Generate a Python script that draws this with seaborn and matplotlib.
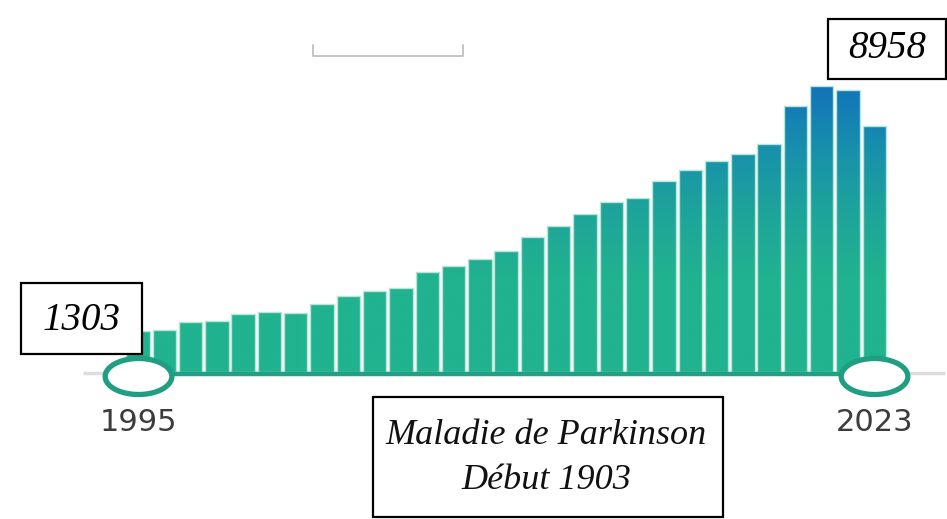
import numpy as np
import pandas as pd
import matplotlib
matplotlib.use('Agg')
import matplotlib.pyplot as plt
import seaborn as sns
from matplotlib.colors import LinearSegmentedColormap, Normalize
from matplotlib.patches import Rectangle
from matplotlib.lines import Line2D
from matplotlib.path import Path

# publications per year
years = list(range(1995, 2024))
values = [1303, 1334, 1575, 1606, 1816, 1879, 1866, 2148, 2398, 2535,
          2648, 3130, 3318, 3546, 3806, 4225, 4588, 4954, 5320, 5454,
          5977, 6321, 6621, 6831, 7144, 8332, 8958, 8833, 7719]
subject = 'Maladie de Parkinson'
first_year = 1903

df = pd.DataFrame({'year': [str(y) for y in years], 'count': values})

sns.set_style('white')
fig = plt.figure(figsize=(9.47, 5.19), dpi=100)
ax = fig.add_axes([0.1318, 0.28256, 0.8054, 0.5851])

sns.barplot(data=df, x='year', y='count', ax=ax, width=0.89,
            color='#21b28f', saturation=1, zorder=2)

# vertical gradient green -> blue, fixed on the value scale
cmap = LinearSegmentedColormap.from_list(
    'gb', ['#21b28f', '#1ea59a', '#1890ac', '#1273bb'])
norm = Normalize(2900, 8958)
for bar in ax.patches:
    x0, w, h = bar.get_x(), bar.get_width(), bar.get_height()
    grad = np.linspace(0, h, 300).reshape(-1, 1)
    im = ax.imshow(grad, extent=(x0, x0 + w, 0, h), origin='lower',
                   aspect='auto', cmap=cmap, norm=norm, zorder=2)
    im.set_clip_path(bar)
    bar.set_facecolor('none')
    bar.set_edgecolor('#b5e6d6')
    bar.set_linewidth(1.0)
    bar.set_zorder(3)

ax.set_xlim(-0.5, len(years) - 0.5)
ax.set_ylim(0, 9500)
ax.axis('off')

# slider track
ax.plot([-2.09, 30.68], [-25, -25], color='#dddddd', lw=2.5,
        solid_capstyle='butt', clip_on=False, zorder=1)
ax.plot([0, len(years) - 1], [-45, -45], color='#23a083', lw=3.2,
        solid_capstyle='butt', clip_on=False, zorder=4)

t = np.linspace(0, 2 * np.pi, 120)
ell = Path(np.column_stack([np.cos(t), 0.54 * np.sin(t)]), closed=True)
ax.plot([0, len(years) - 1], [-110, -110], ls='none', marker=ell,
        markersize=48, markerfacecolor='white', markeredgecolor='#1f9e82',
        markeredgewidth=3.8, clip_on=False, zorder=5)

for i in (0, len(years) - 1):
    ax.annotate(str(years[i]), xy=(i, 0), xytext=(0, -36),
                textcoords='offset points', ha='center', va='center',
                fontsize=22, color='#3c3c3c', family='DejaVu Sans',
                annotation_clip=False)

# framed italic labels
W, H = 947.0, 519.0


def box(x0, y0, x1, y1):
    fig.add_artist(Rectangle((x0 / W, 1 - y1 / H), (x1 - x0) / W, (y1 - y0) / H,
                             transform=fig.transFigure, facecolor='white',
                             edgecolor='black', lw=1.6, zorder=10))


serif = dict(family='Liberation Serif', style='italic',
             ha='center', va='center', zorder=11)

box(21, 283, 142, 354)
fig.text(82 / W, 1 - 320 / H, f'{values[0]}', fontsize=28, color='black', **serif)

box(828, 19, 946, 79)
fig.text(887 / W, 1 - 48 / H, f'{max(values)}', fontsize=28, color='black', **serif)

box(373, 397, 723, 517)
fig.text(546 / W, 1 - 458 / H, f'{subject}\nDébut {first_year}',
         fontsize=26, linespacing=1.45, color='#111111', **serif)

# faint cropped widget bracket at the top
fig.add_artist(Line2D(np.array([313, 313, 463, 463]) / W,
                      1 - np.array([45, 56, 56, 45]) / H,
                      transform=fig.transFigure, color='#c4c4c4', lw=1.4))

fig.savefig('out.png', dpi=100)
